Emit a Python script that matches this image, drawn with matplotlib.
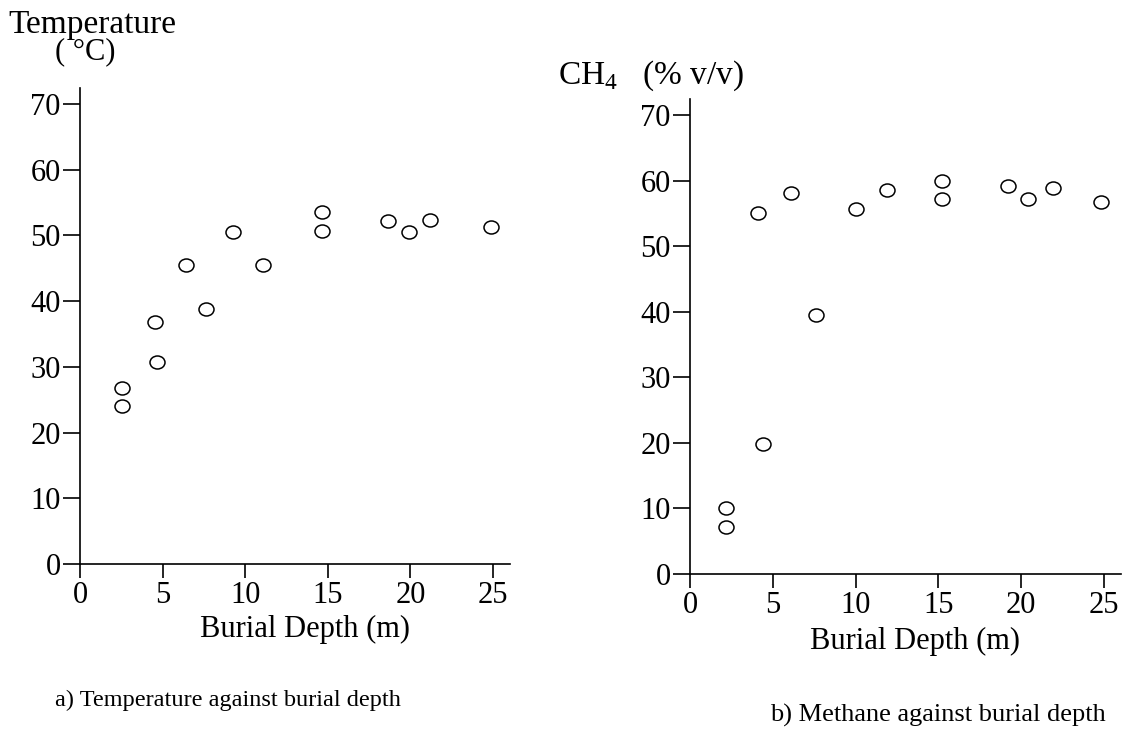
import numpy as np
import matplotlib
matplotlib.use("Agg")
import matplotlib.pyplot as plt
from matplotlib.path import Path

plt.rcParams['font.family'] = ['Liberation Serif', 'DejaVu Serif']
plt.rcParams['mathtext.fontset'] = 'custom'
plt.rcParams['mathtext.rm'] = 'Liberation Serif'

# burial depth (m) vs temperature (deg C)
temp_depth = [2.55, 2.55, 4.55, 4.65, 6.4, 7.6, 9.25, 11.1, 14.65, 14.65, 18.65, 19.9, 21.2, 24.9]
temp_vals = [26.8, 24.0, 36.85, 30.75, 45.5, 38.75, 50.5, 45.5, 53.5, 50.7, 52.2, 50.5, 52.4, 51.3]

# burial depth (m) vs methane (% v/v)
ch4_depth = [2.2, 2.2, 4.1, 4.4, 6.1, 7.6, 10.0, 11.9, 15.2, 15.2, 19.2, 20.4, 21.9, 24.8]
ch4_vals = [10.1, 7.1, 55.0, 19.8, 58.1, 39.5, 55.7, 58.6, 60.0, 57.2, 59.2, 57.2, 58.8, 56.8]

xticks = [0, 5, 10, 15, 20, 25]
yticks = [0, 10, 20, 30, 40, 50, 60, 70]

# slightly flattened open circle, like the scanned markers
circ = Path.unit_circle()
ellipse = Path(circ.vertices * np.array([1.0, 13 / 15]), circ.codes)

fig = plt.figure(figsize=(11.37, 7.49), dpi=100)
ax1 = fig.add_axes([0.0704, 0.2470, 0.3778, 0.6360])
ax2 = fig.add_axes([0.6069, 0.2336, 0.3787, 0.6347])

TICK_FS = 22
LAB_FS = 22


def style(ax):
    for s in ['top', 'right']:
        ax.spines[s].set_visible(False)
    for s in ['left', 'bottom']:
        ax.spines[s].set_linewidth(1.2)
    ax.set_xlim(0, 26)
    ax.set_ylim(0, 72.5)
    ax.set_xticks(xticks)
    ax.set_yticks(yticks)
    ax.tick_params(direction='out', length=12, width=1.2, labelsize=TICK_FS)
    ax.tick_params(axis='y', pad=2)
    ax.tick_params(axis='x', length=10, pad=2)
    ax.set_xlabel('Burial Depth (m)', fontsize=LAB_FS)


for ax, xs, ys in [(ax1, temp_depth, temp_vals), (ax2, ch4_depth, ch4_vals)]:
    style(ax)
    ax.plot(xs, ys, linestyle='none', marker=ellipse, markersize=10.8,
            markerfacecolor='white', markeredgecolor='black', markeredgewidth=1.1,
            clip_on=False)

ax1.xaxis.set_label_coords(0.524, -0.106)
ax2.xaxis.set_label_coords(0.523, -0.112)

fig.text(8 / 1137, 1 - 25 / 749, 'Temperature', fontsize=24, ha='left', va='center')
fig.text(85 / 1137, 1 - 52 / 749, '( °C)', fontsize=22, ha='center', va='center')
fig.text(558 / 1137, 1 - 76 / 749, 'CH$_4$   (% v/v)', fontsize=24, ha='left', va='center')

fig.text(228 / 1137, 1 - 700 / 749, 'a) Temperature against burial depth',
         fontsize=17.5, ha='center', va='center')
fig.text(938 / 1137, 1 - 715 / 749, 'b) Methane against burial depth',
         fontsize=19, ha='center', va='center')

fig.savefig('out.png', dpi=100, facecolor='white')
